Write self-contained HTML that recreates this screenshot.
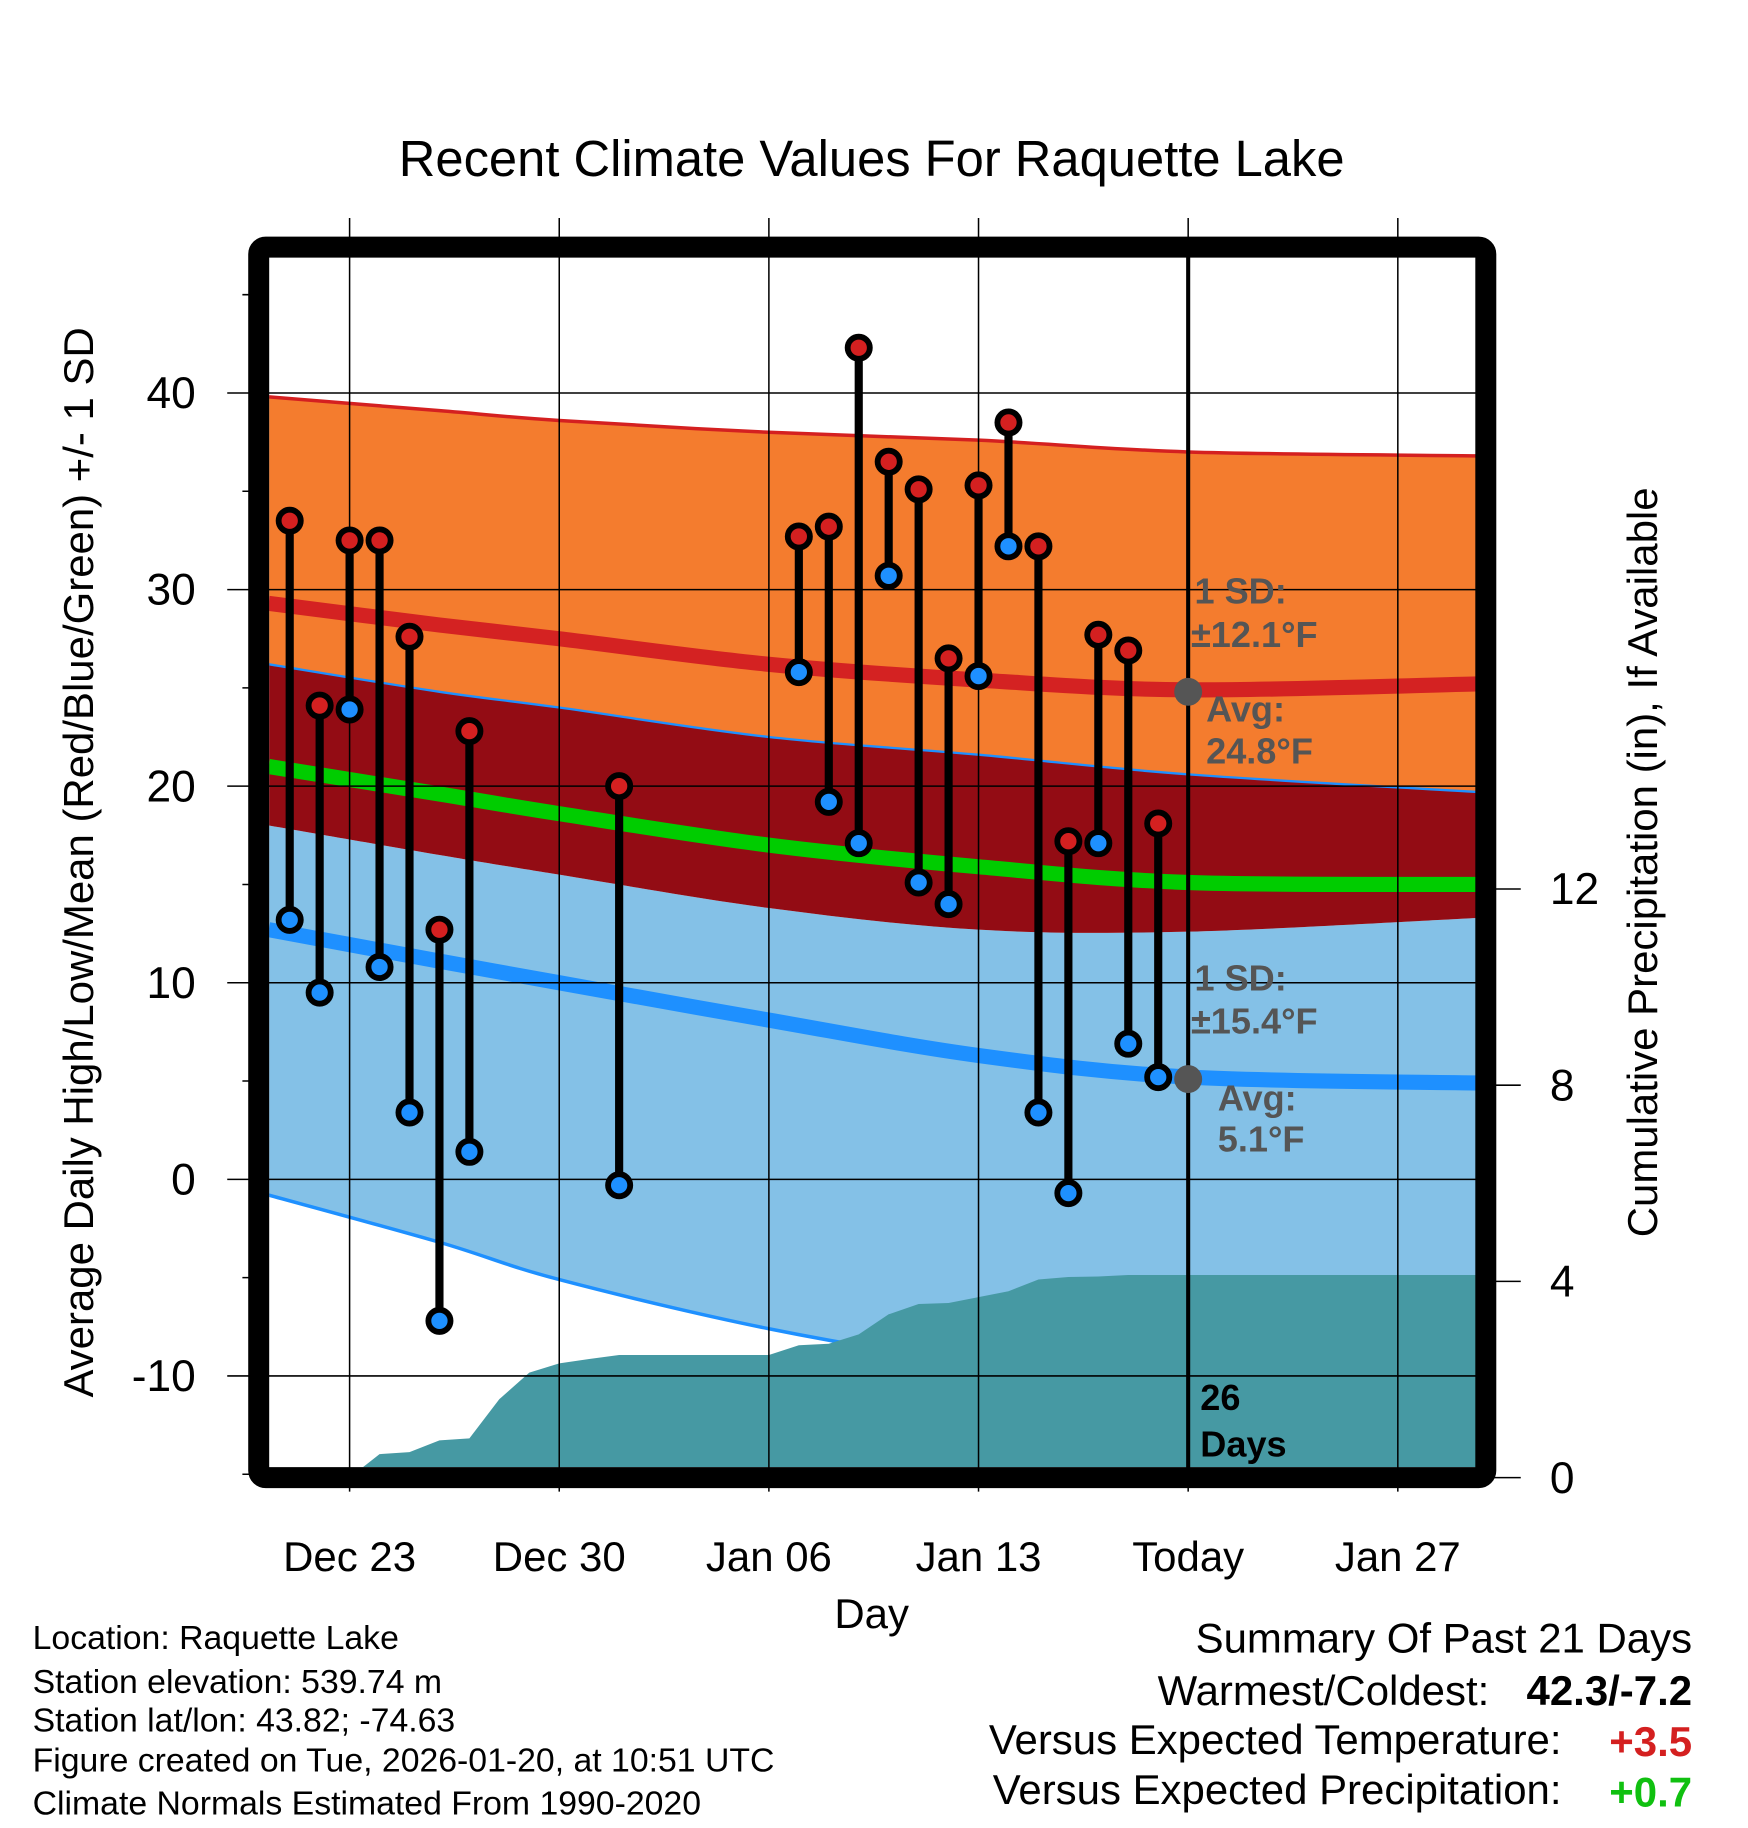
<!DOCTYPE html>
<html><head><meta charset="utf-8"><style>
html,body{margin:0;padding:0;background:#fff;}
svg{display:block;font-family:"Liberation Sans",Arial,sans-serif;}
</style></head><body>
<svg id="chart" width="1748" height="1828" viewBox="0 0 1500 1568.6" xmlns="http://www.w3.org/2000/svg">
<defs><clipPath id="plotclip"><rect x="231" y="221" width="1036" height="1038"/></clipPath></defs>
<text x="748" y="151" font-size="43.5" text-anchor="middle">Recent Climate Values For Raquette Lake</text>
<g id="bands" clip-path="url(#plotclip)"></g>
<g id="grid"></g>
<g id="marks"></g>
<g id="labels"></g>
<text transform="translate(80,740) rotate(-90)" font-size="36" text-anchor="middle">Average Daily High/Low/Mean (Red/Blue/Green) +/- 1 SD</text>
<text transform="translate(1422,740) rotate(-90)" font-size="36" text-anchor="middle">Cumulative Precipitation (in), If Available</text>
<text x="748" y="1397" font-size="36" text-anchor="middle">Day</text>
<g font-size="29">
<text x="28" y="1415">Location: Raquette Lake</text>
<text x="28" y="1453">Station elevation: 539.74 m</text>
<text x="28" y="1486">Station lat/lon: 43.82; -74.63</text>
<text x="28" y="1520">Figure created on Tue, 2026-01-20, at 10:51 UTC</text>
<text x="28" y="1557">Climate Normals Estimated From 1990-2020</text>
</g>
<g font-size="36" text-anchor="end">
<text x="1452" y="1418">Summary Of Past 21 Days</text>
<text x="1278" y="1463">Warmest/Coldest:</text>
<text x="1452" y="1463" font-weight="bold">42.3/-7.2</text>
<text x="1340" y="1505">Versus Expected Temperature:</text>
<text x="1452" y="1507" font-weight="bold" fill="#d42020">+3.5</text>
<text x="1340" y="1548">Versus Expected Precipitation:</text>
<text x="1452" y="1550" font-weight="bold" fill="#10c010">+0.7</text>
</g>
</svg>
<script>
// data (days offset from Dec 23)
const obsDays = [-2,-1,0,1,2,3,4,9,15,16,17,18,19,20,21,22,23,24,25,26,27];
const highs = [33.5,24.1,32.5,32.5,27.6,12.7,22.8,20.0,32.7,33.2,42.3,36.5,35.1,26.5,35.3,38.5,32.2,17.2,27.7,26.9,18.1];
const lows  = [13.2,9.5,23.9,10.8,3.4,-7.2,1.4,-0.3,25.8,19.2,17.1,30.7,15.1,14.0,25.6,32.2,3.4,-0.7,17.1,6.9,5.2];
const normDays = [-2.7,3,7,14,21,28,37.7];
const highPlus = [39.8,39.1,38.6,38.0,37.6,37.0,36.8];
const highAvg  = [29.3,28.2,27.5,26.2,25.4,24.9,25.2];
const highMinus= [26.2,24.8,24.0,22.5,21.6,20.6,19.7];
const meanAvg  = [21.0,19.6,18.6,17.0,15.9,15.1,15.0];
const lowPlus  = [18.0,16.5,15.5,13.8,12.7,12.6,13.3];
const lowAvg   = [12.7,11.1,10.0,8.1,6.3,5.2,4.9];
const lowMinus = [-0.8,-3.2,-5.1,-7.6,-9.4,-10.6,-11.1];
const precipDays = [0,1,2,3,4,5,6,7,8,9,10,11,12,13,14,15,16,17,18,19,20,21,22,23,24,25,26,27,28,37.7];
const precipVals = [0,0.48,0.52,0.76,0.8,1.6,2.14,2.33,2.42,2.5,2.5,2.5,2.5,2.5,2.5,2.7,2.73,2.92,3.33,3.54,3.56,3.68,3.8,4.04,4.09,4.1,4.13,4.13,4.13,4.13];
const xTickDays = [0,7,14,21,28,35];
const xTickLabels = ["Dec 23","Dec 30","Jan 06","Jan 13","Today","Jan 27"];
const yTicks = [40,30,20,10,0,-10];
const y2Ticks = [0,4,8,12];
const todayDay = 28, todayHigh = 24.8, todayLow = 5.1;

const NS="http://www.w3.org/2000/svg";
const X = d => 300 + 25.7*d;
const Y = v => 1012 - 16.87*v;
const YP = p => 1268 - 42.1*p;
function mk(tag, attrs, parent){const e=document.createElementNS(NS,tag);for(const k in attrs)e.setAttribute(k,attrs[k]);parent.appendChild(e);return e;}
function curve(xs, ys){
  const p=xs.map((x,i)=>[x,ys[i]]);let s=`M${p[0][0]},${p[0][1]}`;
  for(let i=0;i<p.length-1;i++){const p0=p[i-1]||p[i],p1=p[i],p2=p[i+1],p3=p[i+2]||p2;
    s+=` C${p1[0]+(p2[0]-p0[0])/6},${p1[1]+(p2[1]-p0[1])/6} ${p2[0]-(p3[0]-p1[0])/6},${p2[1]-(p3[1]-p1[1])/6} ${p2[0]},${p2[1]}`;}
  return s;}
function band(lo, hi){
  const xs=normDays.map(X);
  const top=curve(xs, hi.map(Y));
  const bx=[...xs].reverse(), by=[...lo].reverse().map(Y);
  return top+" L"+curve(bx,by).slice(1)+" Z";}
const bands=document.getElementById('bands');
const xs=normDays.map(X);
let e;
e=mk('path',{d:band(lowMinus,lowPlus),fill:'#84c1e7'},bands);


e=mk('path',{d:band(lowPlus,highMinus),fill:'#930c14'},bands);


e=mk('path',{d:band(highMinus,highPlus),fill:'#f47c2e'},bands);


e=mk('path',{d:curve(xs,highPlus.map(Y)),fill:'none',stroke:'#d42020','stroke-width':3},bands);


e=mk('path',{d:curve(xs,highMinus.map(Y)),fill:'none',stroke:'#1e90ff','stroke-width':2},bands);


e=mk('path',{d:curve(xs,lowMinus.map(Y)),fill:'none',stroke:'#1e90ff','stroke-width':3},bands);


e=mk('path',{d:curve(xs,highAvg.map(Y)),fill:'none',stroke:'#d42222','stroke-width':13},bands);


e=mk('path',{d:curve(xs,meanAvg.map(Y)),fill:'none',stroke:'#00cc00','stroke-width':13},bands);


e=mk('path',{d:curve(xs,lowAvg.map(Y)),fill:'none',stroke:'#1e90ff','stroke-width':13},bands);


let pd=`M${X(precipDays[0])},${YP(0)}`;
precipDays.forEach((d,i)=>{pd+=` L${X(d)},${YP(precipVals[i])}`;});
pd+=` L${X(precipDays[precipDays.length-1])},${YP(0)} Z`;
e=mk('path',{d:pd,fill:'#4699a3'},bands);



const grid=document.getElementById('grid');
const labels=document.getElementById('labels');
xTickDays.forEach((d,i)=>{
  e=mk('line',{x1:X(d),x2:X(d),y1:187,y2:1280,stroke:'#000','stroke-width':1.3},grid);
  
  
  e=mk('text',{x:X(d),y:1348,'font-size':36,'text-anchor':'middle'},labels);
  e.textContent=xTickLabels[i];
  
  
});
yTicks.forEach(v=>{
  e=mk('line',{x1:195,x2:1268,y1:Y(v),y2:Y(v),stroke:'#000','stroke-width':1.3},grid);
  
  
  e=mk('text',{x:168,y:Y(v)+13,'font-size':38,'text-anchor':'end'},labels);
  e.textContent=String(v);
  
  
});
for(let v=-15;v<=45;v+=5){ if(v%10!==0){
  e=mk('line',{x1:208,x2:222,y1:Y(v),y2:Y(v),stroke:'#000','stroke-width':1.3},grid);
  
  
}}
y2Ticks.forEach(p=>{
  e=mk('line',{x1:1275,x2:1305,y1:YP(p),y2:YP(p),stroke:'#000','stroke-width':1.3},grid);
  
  
  e=mk('text',{x:1330,y:YP(p)+13,'font-size':38},labels);
  e.textContent=String(p);
  
  
});
const marks=document.getElementById('marks');
e=mk('line',{x1:X(todayDay),x2:X(todayDay),y1:220,y2:1260,stroke:'#000','stroke-width':3.5},marks);


obsDays.forEach((d,i)=>{
  e=mk('line',{x1:X(d),x2:X(d),y1:Y(highs[i]),y2:Y(lows[i]),stroke:'#000','stroke-width':7},marks);
  
  
});
obsDays.forEach((d,i)=>{
  e=mk('circle',{cx:X(d),cy:Y(highs[i]),r:9.5,fill:'#d42020',stroke:'#000','stroke-width':5},marks);
  
  
  e=mk('circle',{cx:X(d),cy:Y(lows[i]),r:9.5,fill:'#1e90ff',stroke:'#000','stroke-width':5},marks);
  
  
});
e=mk('circle',{cx:X(todayDay),cy:Y(todayHigh),r:12,fill:'#555'},marks);


e=mk('circle',{cx:X(todayDay),cy:Y(todayLow),r:12,fill:'#555'},marks);


e=mk('rect',{x:222,y:212,width:1053,height:1056,fill:'none',stroke:'#000','stroke-width':18,rx:6},marks);


const ann=[["1 SD:",1025,518,'#555'],["\u00b112.1\u00b0F",1022,555,'#555'],["Avg:",1035,619,'#555'],["24.8\u00b0F",1035,655,'#555'],
["1 SD:",1025,850,'#555'],["\u00b115.4\u00b0F",1022,887,'#555'],["Avg:",1045,953,'#555'],["5.1\u00b0F",1045,988,'#555'],["26",1030,1210,'#000'],["Days",1030,1250,'#000']];
ann.forEach(a=>{
  e=mk('text',{x:a[1],y:a[2],'font-size':31,'font-weight':'bold',fill:a[3]},labels);
  e.textContent=a[0];
  
  
});
</script>
</body></html>
